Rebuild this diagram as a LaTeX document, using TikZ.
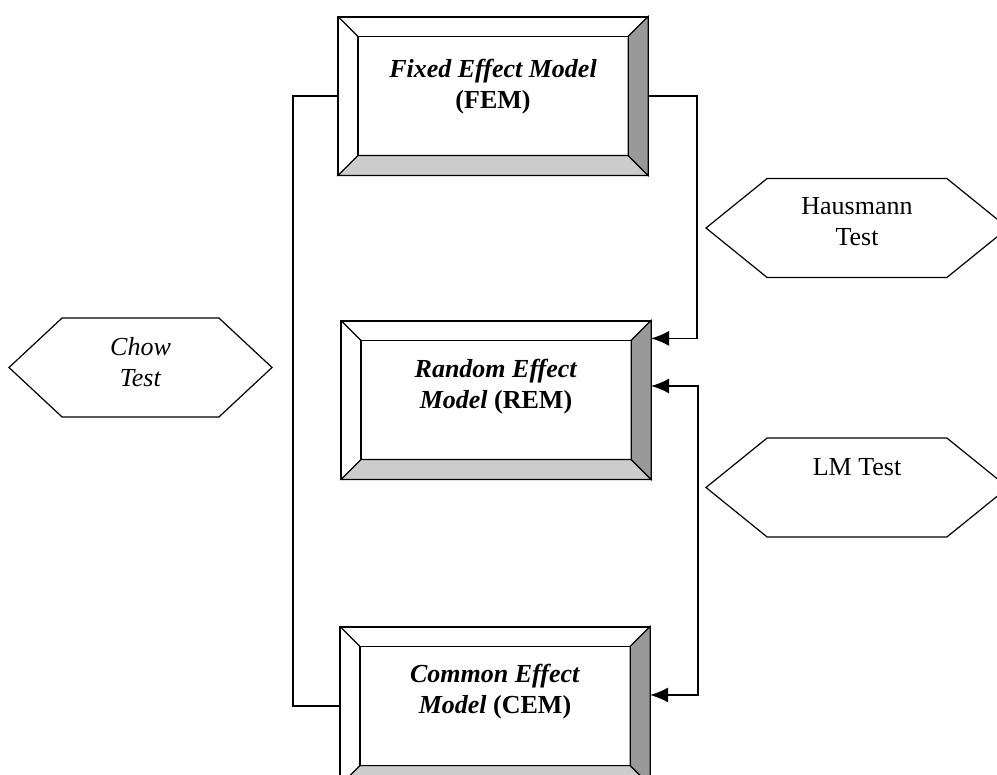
\documentclass[tikz,border=0pt]{standalone}
\usepackage{fontspec}
\setmainfont{Liberation Serif}
\usetikzlibrary{shapes.symbols,arrows.meta}

\definecolor{darkface}{HTML}{999999}
\definecolor{lightface}{HTML}{CCCCCC}

\newcommand{\bevelfaces}[1]{%
\filldraw[fill=darkface] (#1.north east) -- (#1.south east) -- ([shift={(-20,-20)}]#1.south east) -- ([shift={(-20,20)}]#1.north east) -- cycle;
\filldraw[fill=lightface] (#1.south east) -- (#1.south west) -- ([shift={(20,-20)}]#1.south west) -- ([shift={(-20,-20)}]#1.south east) -- cycle;
\draw (#1.north west) -- ([shift={(20,20)}]#1.north west);
\draw ([shift={(20,20)}]#1.north west) rectangle ([shift={(-20,-20)}]#1.south east);
\draw (#1.north west) rectangle (#1.south east);
}

\begin{document}
\begin{tikzpicture}[x=1pt,y=-1pt,line width=1.2pt,
  font=\fontsize{26}{31}\selectfont,
  bevelbox/.style={draw,fill=white,minimum width=309,minimum height=158,inner sep=0},
  boxtext/.style={align=center,inner sep=0},
  testhex/.style={signal,signal to=west and east,draw,inner sep=0,minimum height=99},
  conn/.style={line width=1.4pt},
  tip/.style={-{Latex[length=18pt,width=15pt]}},
  twotips/.style={{Latex[length=18pt,width=15pt]}-{Latex[length=18pt,width=15pt]}}]

\useasboundingbox (0,0) rectangle (997,775);
\clip (0,0) rectangle (997,775);

\node[bevelbox] (fem) at (493,96) {};
\node[bevelbox] (rem) at (496,400) {};
\node[bevelbox] (cem) at (495,706) {};
\bevelfaces{fem}
\bevelfaces{rem}
\bevelfaces{cem}

\node[boxtext] (femtext) at ([yshift=9pt]fem.center) {\textbf{\textit{Fixed Effect Model}}\\\textbf{(FEM)}};
\node[boxtext] (remtext) at ([yshift=13pt]rem.center) {\textbf{\textit{Random Effect}}\\\textbf{\textit{Model}} \textbf{(REM)}};
\node[boxtext] (cemtext) at ([yshift=14pt]cem.center) {\textbf{\textit{Common Effect}}\\\textbf{\textit{Model}} \textbf{(CEM)}};

\node[testhex,minimum width=263,signal pointer angle=86] (chow) at (140.5,367.5) {};
\node[testhex,minimum width=302,signal pointer angle=78] (haus) at (857,228) {};
\node[testhex,minimum width=302,signal pointer angle=78] (lm) at (857,487.5) {};

\node[boxtext] (chowtext) at ([yshift=5pt]chow.center) {\textit{Chow}\\\textit{Test}};
\node[boxtext] (haustext) at ([yshift=6pt]haus.center) {Hausmann\\Test};
\node[boxtext] (lmtext) at ([yshift=20pt]lm.center) {LM Test};

\draw[conn] (fem.west) -- ++(-45,0) |- (cem.west);
\draw[conn,tip] (fem.east) -- ++(49,0) |- ([shift={(0,18)}]rem.north east);
\draw[conn,twotips] ([shift={(0,-14)}]rem.east) -- ++(47,0) |- ([shift={(0,-11)}]cem.east);
\end{tikzpicture}
\end{document}
